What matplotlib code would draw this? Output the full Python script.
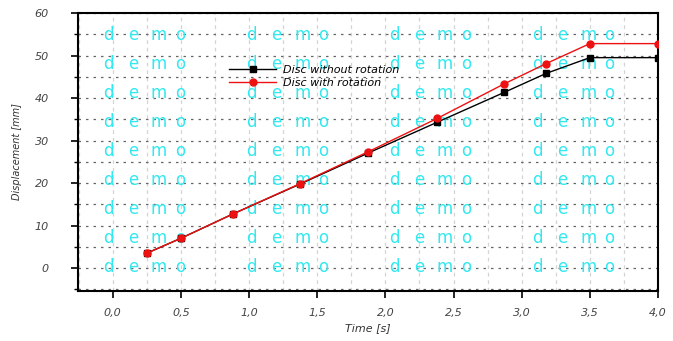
import numpy as np
import matplotlib
matplotlib.use('Agg')
import matplotlib.pyplot as plt
from matplotlib.ticker import MultipleLocator, FuncFormatter

# Data
time_s = [0.25, 0.5, 0.88, 1.37, 1.87, 2.38, 2.87, 3.18, 3.5, 4.0]
disc_no_rot = [3.5, 7.0, 12.7, 19.7, 27.0, 34.3, 41.3, 45.8, 49.5, 49.5]
disc_rot = [3.5, 7.0, 12.7, 19.8, 27.3, 35.2, 43.3, 48.1, 52.8, 52.8]

x_ticks = [0.0, 0.5, 1.0, 1.5, 2.0, 2.5, 3.0, 3.5, 4.0]
y_ticks = [0, 10, 20, 30, 40, 50, 60]

W, H = 673, 341
fig = plt.figure(figsize=(W / 100, H / 100), dpi=100)
ax = fig.add_axes([78 / W, 1 - 291 / H, (658 - 78) / W, (291 - 13) / H])

ax.set_xlim(-0.255, 4.0)
ax.set_ylim(-5.4, 60)

# grids: dotted horizontals every 5, light vertical dashes every 0.25
ax.yaxis.set_minor_locator(MultipleLocator(5))
ax.xaxis.set_minor_locator(MultipleLocator(0.25))
ax.yaxis.grid(True, which='both', color='#666666', linestyle=(0, (2, 4)), linewidth=0.9)
ax.xaxis.grid(True, which='both', color='#d4d4d4', linestyle=(0, (3, 3)), linewidth=0.9)
ax.set_axisbelow(True)

# watermark
wm_cols = [103, 246, 389, 532]
wm_rows = [35, 64, 93, 122, 151, 180, 209, 238, 267]
letter_dx = [0, 25, 48, 72]
for yr in wm_rows:
    for xc in wm_cols:
        for ch, dx in zip('demo', letter_dx):
            ax.text((xc + dx - 78) / 580, (291 - yr) / 278, ch,
                    transform=ax.transAxes, color='#33e8f0', fontsize=12,
                    ha='left', va='center', zorder=1.5, clip_on=True)

ax.plot(time_s, disc_no_rot, color='black', marker='s', markersize=5,
        linewidth=1.0, label='Disc without rotation', zorder=3)
ax.plot(time_s, disc_rot, color='#ee1111', marker='o', markersize=5,
        linewidth=1.0, label='Disc with rotation', zorder=4)

ax.set_xticks(x_ticks)
ax.set_yticks(y_ticks)
comma = FuncFormatter(lambda v, p: f'{v:.1f}'.replace('.', ','))
ax.xaxis.set_major_formatter(comma)
ax.tick_params(axis='both', which='major', direction='out', length=5,
               width=1.2, labelsize=8, colors='black', labelcolor='#444444')
ax.tick_params(axis='y', which='major', pad=16)
ax.tick_params(axis='x', which='major', pad=7)
ax.tick_params(axis='y', which='minor', direction='out', length=3, width=1.0)
ax.tick_params(axis='x', which='minor', length=0)
for lbl in ax.get_xticklabels() + ax.get_yticklabels():
    lbl.set_fontstyle('italic')

for s in ax.spines.values():
    s.set_linewidth(1.5)

ax.set_xlabel('Time [s]', fontsize=8, fontstyle='italic', color='#333333', labelpad=4)
ax.set_ylabel('Displacement [mm]', fontsize=7, fontstyle='italic', color='#333333', labelpad=9)

ax.legend(loc='upper left', bbox_to_anchor=(0.253, 0.83), frameon=False,
          prop={'style': 'italic', 'size': 8}, handlelength=4.2,
          handletextpad=0.6, labelspacing=0.3, borderaxespad=0)

fig.savefig('out.png', dpi=100)
